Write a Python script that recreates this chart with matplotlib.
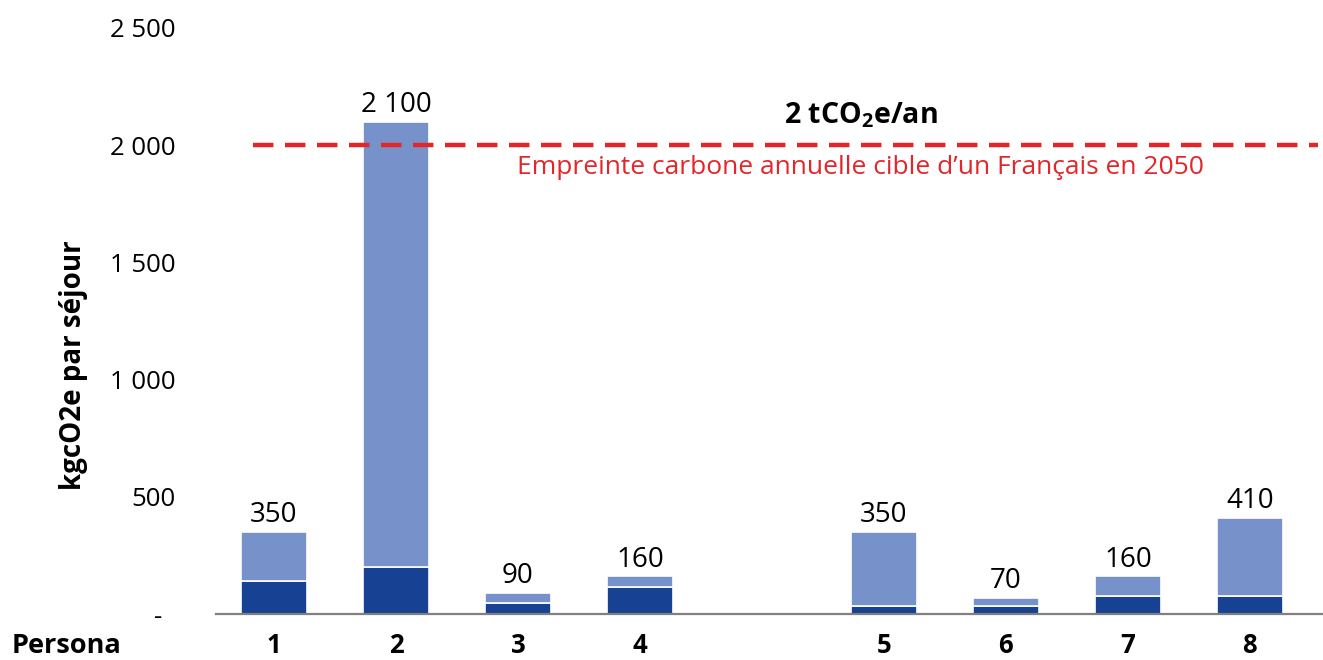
import matplotlib
matplotlib.use("Agg")
import matplotlib.pyplot as plt
import numpy as np

# Séjours par persona, en kgCO2e
personas = ["1", "2", "3", "4", "5", "6", "7", "8"]
totals = [350, 2100, 90, 160, 350, 70, 160, 410]
part_dark = [140, 200, 47, 115, 34, 34, 77, 77]
part_light = [t - d for t, d in zip(totals, part_dark)]
target = 2000
yticks = [0, 500, 1000, 1500, 2000, 2500]
ytick_labels = ["-  ", "500", "1 000", "1 500", "2 000", "2 500"]

positions = [0, 1, 2, 3, 5, 6, 7, 8]

dark_col = "#174192"
light_col = "#7791ca"
red = "#e3262a"
font = ["Open Sans", "DejaVu Sans"]
plt.rcParams["font.family"] = font
plt.rcParams["mathtext.fontset"] = "custom"
plt.rcParams["mathtext.rm"] = "Open Sans:bold"
plt.rcParams["mathtext.bf"] = "Open Sans:bold"

fig = plt.figure(figsize=(13.23, 6.6), dpi=100)
ax = fig.add_axes([216 / 1323, 46 / 660, 1 - 216 / 1323, 586 / 660])

w = 0.54
ax.bar(positions, part_dark, width=w, color=dark_col, edgecolor="white", linewidth=1.2, zorder=2)
ax.bar(positions, part_light, width=w, bottom=part_dark, color=light_col,
       edgecolor="white", linewidth=1.2, zorder=2)

for x, t in zip(positions, totals):
    lab = f"{t:,}".replace(",", " ")
    ax.annotate(lab, (x, t), xytext=(0, 2), textcoords="offset points",
                ha="center", va="bottom", fontsize=20, color="black")

# Objectif annuel
ax.plot([-0.17, 8.56], [target, target], color=red, linewidth=3.2,
        dashes=(4.6, 2.6), zorder=3)
ax.text(4.81, target + 65, r"2 tCO$_\mathrm{2}$e/an", ha="center", va="bottom",
        fontsize=20.5, fontweight="bold", color="black")
ax.text(4.81, target - 40, "Empreinte carbone annuelle cible d’un Français en 2050",
        ha="center", va="top", fontsize=19, color=red)

ax.set_xlim(-0.475, 8.6)
ax.set_ylim(0, 2500)
ax.set_yticks(yticks)
ax.set_yticklabels(ytick_labels, fontsize=18.5)
ax.set_xticks(positions)
ax.set_xticklabels(personas, fontsize=18.5, fontweight="bold")
ax.tick_params(axis="y", length=0, pad=29)
ax.tick_params(axis="x", length=0, pad=13)

for s in ["top", "right", "left"]:
    ax.spines[s].set_visible(False)
ax.spines["bottom"].set_color("#808080")
ax.spines["bottom"].set_linewidth(1.6)

ax.set_ylabel("kgcO2e par séjour", fontsize=20, fontweight="bold", labelpad=0)
ax.yaxis.set_label_coords(-(216 - 88) / (1323 - 216), 0.425)

fig.text(12 / 1323, 1 - 646 / 660, "Persona", fontsize=19.5, fontweight="bold",
         ha="left", va="center")

fig.savefig("out.png", dpi=100)
